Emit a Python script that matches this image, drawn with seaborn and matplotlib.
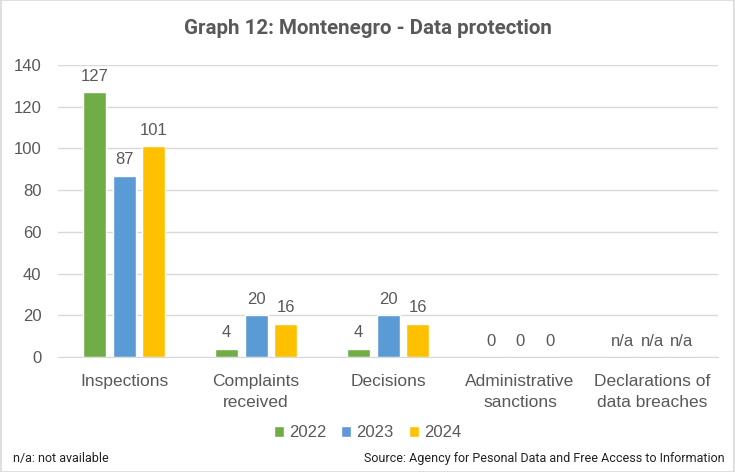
"""Graph 12: Montenegro - Data protection"""
import numpy as np
import pandas as pd
import matplotlib
matplotlib.use("Agg")
import matplotlib.pyplot as plt
from matplotlib.patches import Rectangle
import seaborn as sns

categories = ["Inspections", "Complaints\nreceived", "Decisions",
              "Administrative\nsanctions", "Declarations of\ndata breaches"]
years = ["2022", "2023", "2024"]
values_2022 = [127, 4, 4, 0, np.nan]
values_2023 = [87, 20, 20, 0, np.nan]
values_2024 = [101, 16, 16, 0, np.nan]
y_ticks = [0, 20, 40, 60, 80, 100, 120, 140]
colors = ["#70AD47", "#5B9BD5", "#FFC000"]

df = pd.DataFrame({
    "category": categories * 3,
    "year": [y for y in years for _ in categories],
    "value": values_2022 + values_2023 + values_2024,
})
# missing values are drawn as empty bars so they still get an "n/a" label
df["bar"] = df["value"].fillna(0)

sns.set_style("white")
plt.rcParams["font.family"] = ["Liberation Sans", "DejaVu Sans"]
text_gray = "#595959"

fig = plt.figure(figsize=(7.35, 4.72), dpi=100)
ax = fig.add_axes([0.079, 0.2436, 0.898, 0.6186])

sns.barplot(data=df, x="category", y="bar", hue="year", palette=colors,
            width=0.67, gap=0.22, ax=ax, legend=True, saturation=1)

# value labels (n/a where missing)
for container, year in zip(ax.containers, years):
    raw = df.loc[df["year"] == year, "value"].to_numpy()
    for patch, v in zip(container.patches, raw):
        lab = "n/a" if np.isnan(v) else f"{int(v)}"
        h = 0 if np.isnan(v) else v
        ax.annotate(lab, (patch.get_x() + patch.get_width() / 2, h),
                    xytext=(0, 6), textcoords="offset points",
                    ha="center", va="bottom", fontsize=12, color=text_gray)

ax.set_ylim(0, 140)
ax.set_xlim(-0.5, len(categories) - 0.5)
ax.set_yticks(y_ticks)
ax.yaxis.grid(True, color="#D9D9D9", linewidth=1)
ax.set_axisbelow(True)
for s in ["top", "right", "left"]:
    ax.spines[s].set_visible(False)
ax.spines["bottom"].set_color("#D9D9D9")
ax.tick_params(axis="y", length=0, labelsize=12, labelcolor=text_gray, pad=12)
ax.tick_params(axis="x", length=0, labelsize=12.5, labelcolor=text_gray, pad=12)
for lbl in ax.get_xticklabels():
    lbl.set_linespacing(1.5)
ax.set_xlabel("")
ax.set_ylabel("")

handles, labs = ax.get_legend_handles_labels()
ax.legend(handles, labs, loc="center", bbox_to_anchor=(0.5, 0.083),
          bbox_transform=fig.transFigure, ncol=3, frameon=False, fontsize=12,
          handlelength=0.6, handleheight=0.6, handletextpad=0.3, columnspacing=0.9,
          labelcolor=text_gray)

fig.text(0.5, 0.94, "Graph 12: Montenegro - Data protection", ha="center", va="center",
         fontsize=14.8, fontweight="bold", color=text_gray, family=["Roboto", "DejaVu Sans"])
fig.text(0.018, 0.028, "n/a: not available", ha="left", va="center",
         fontsize=9, color="#222222", family=["Roboto", "DejaVu Sans"])
fig.text(0.986, 0.028, "Source: Agency for Pesonal Data and Free Access to Information",
         ha="right", va="center", fontsize=9, color="#222222",
         family=["Roboto", "DejaVu Sans"])

fig.patches.append(Rectangle((0.001, 0.001), 0.998, 0.998, transform=fig.transFigure,
                             fill=False, edgecolor="#D9D9D9", linewidth=1.2))

fig.savefig("out.png", dpi=100)
